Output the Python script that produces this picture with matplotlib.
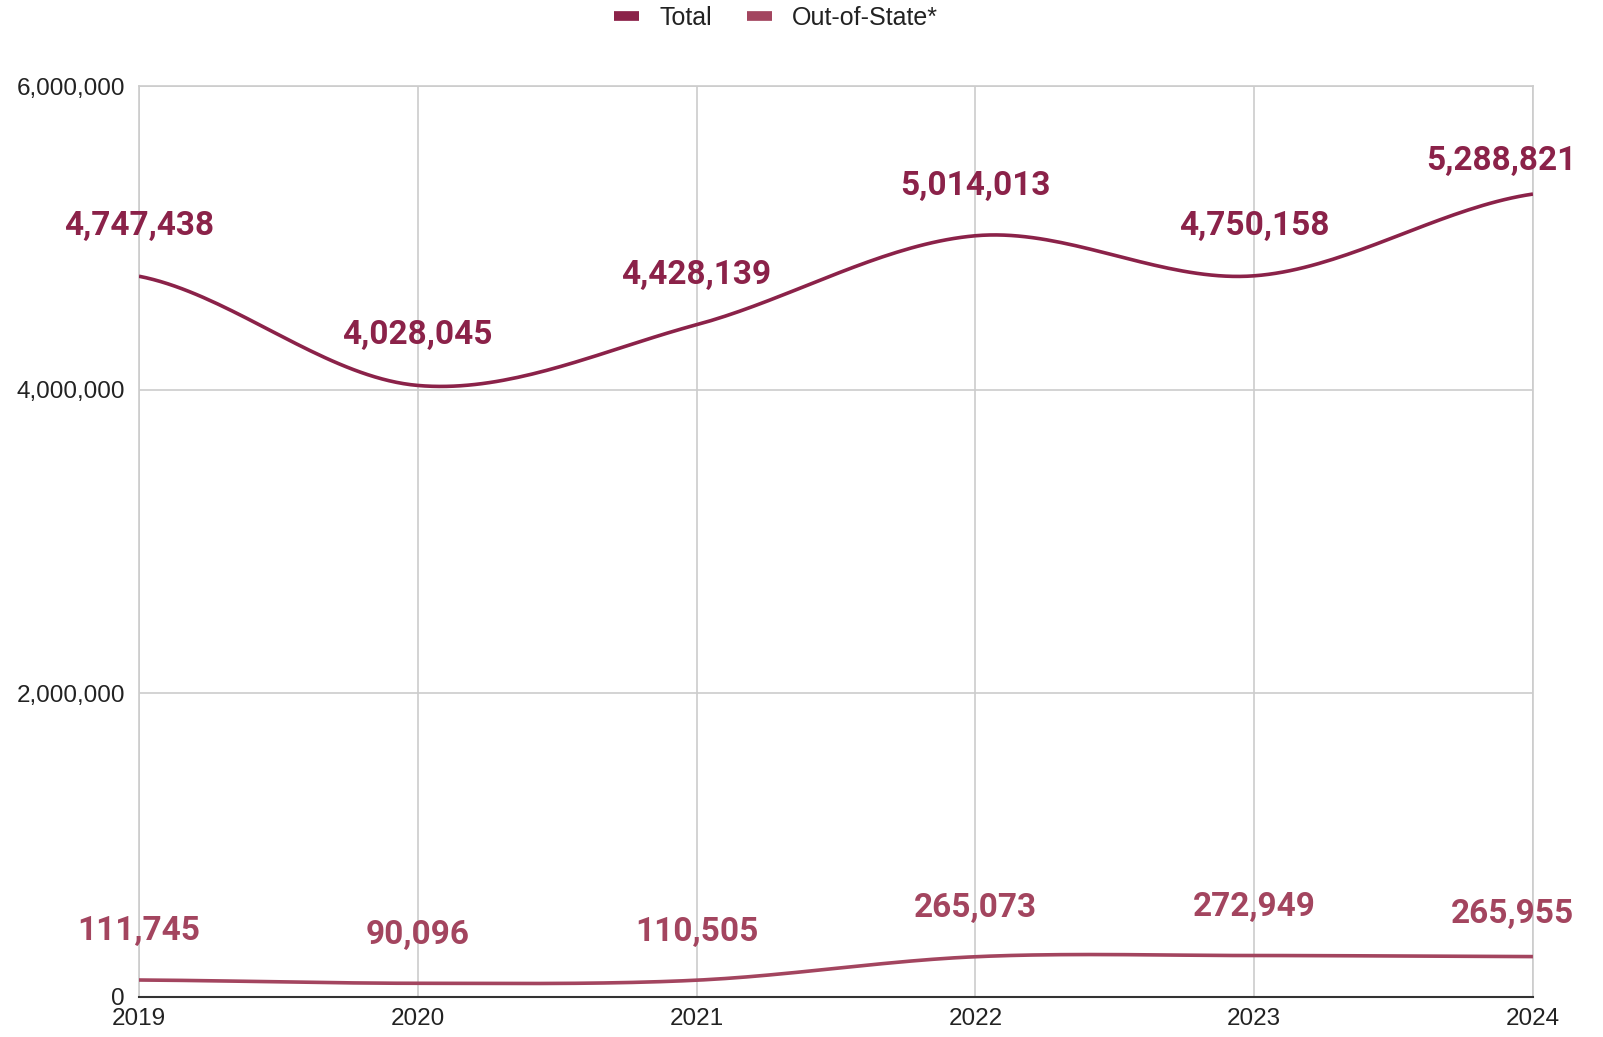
import numpy as np
import matplotlib.pyplot as plt
from matplotlib.lines import Line2D
from matplotlib.ticker import FuncFormatter

years = [2019, 2020, 2021, 2022, 2023, 2024]
total = [4747438, 4028045, 4428139, 5014013, 4750158, 5288821]
out_of_state = [111745, 90096, 110505, 265073, 272949, 265955]

total_color = '#8b2249'
oos_color = '#a3455f'


def smooth(x, y, n=40):
    # catmull-rom through the points, like the "smooth" line in sheets
    x = np.asarray(x, float)
    y = np.asarray(y, float)
    px = np.concatenate([[2 * x[0] - x[1]], x, [2 * x[-1] - x[-2]]])
    py = np.concatenate([[y[0]], y, [y[-1]]])
    xs, ys = [], []
    t = np.linspace(0, 1, n)
    for i in range(1, len(px) - 2):
        for p, out in ((px, xs), (py, ys)):
            p0, p1, p2, p3 = p[i - 1], p[i], p[i + 1], p[i + 2]
            out.append(0.5 * (2 * p1 + (-p0 + p2) * t
                              + (2 * p0 - 5 * p1 + 4 * p2 - p3) * t ** 2
                              + (-p0 + 3 * p1 - 3 * p2 + p3) * t ** 3))
    return np.concatenate(xs), np.concatenate(ys)


plt.rcParams['font.family'] = ['Liberation Sans', 'DejaVu Sans']

fig = plt.figure(figsize=(16.03, 10.37), dpi=100)
ax = fig.add_axes([0.0867, 0.0386, 0.8696, 0.8784])

for vals, col in ((total, total_color), (out_of_state, oos_color)):
    sx, sy = smooth(years, vals)
    ax.plot(sx, sy, color=col, lw=2.6, solid_capstyle='butt', zorder=3)

for i, (yr, v) in enumerate(zip(years, total)):
    dx, dy = (0, 36)
    if i == len(years) - 1:
        dx, dy = (-23, 24)
    ax.annotate(f'{v:,}', (yr, v), xytext=(dx, dy), textcoords='offset points',
                ha='center', va='center', fontsize=24, fontweight='bold',
                color=total_color, family='Roboto')

for i, (yr, v) in enumerate(zip(years, out_of_state)):
    dx, dy = (0, 35)
    if i == len(years) - 1:
        dx, dy = (-15, 31)
    ax.annotate(f'{v:,}', (yr, v), xytext=(dx, dy), textcoords='offset points',
                ha='center', va='center', fontsize=24, fontweight='bold',
                color=oos_color, family='Roboto')

ax.set_xlim(2019, 2024)
ax.set_ylim(0, 6000000)
ax.set_xticks(years)
ax.set_yticks([0, 2000000, 4000000, 6000000])
ax.yaxis.set_major_formatter(FuncFormatter(lambda v, p: f'{int(v):,}'))
ax.grid(True, color='#cccccc', lw=1.2)
ax.set_axisbelow(True)
ax.tick_params(length=0, labelsize=17.5, colors='#222222')
ax.tick_params(axis='x', pad=8)
ax.tick_params(axis='y', pad=10)
for s in ('top', 'left', 'right'):
    ax.spines[s].set_color('#cccccc')
    ax.spines[s].set_linewidth(1.2)
ax.spines['bottom'].set_color('#333333')
ax.spines['bottom'].set_linewidth(1.5)

handles = [Line2D([], [], color=total_color, lw=7, solid_capstyle='butt'),
           Line2D([], [], color=oos_color, lw=7, solid_capstyle='butt')]
fig.legend(handles, ['Total', 'Out-of-State*'], loc='center', bbox_to_anchor=(0.484, 0.983),
           ncol=2, frameon=False, fontsize=18, handlelength=1.0, handletextpad=0.8,
           columnspacing=1.4, labelcolor='#222222')

fig.savefig('out.png', dpi=100, facecolor='white')
